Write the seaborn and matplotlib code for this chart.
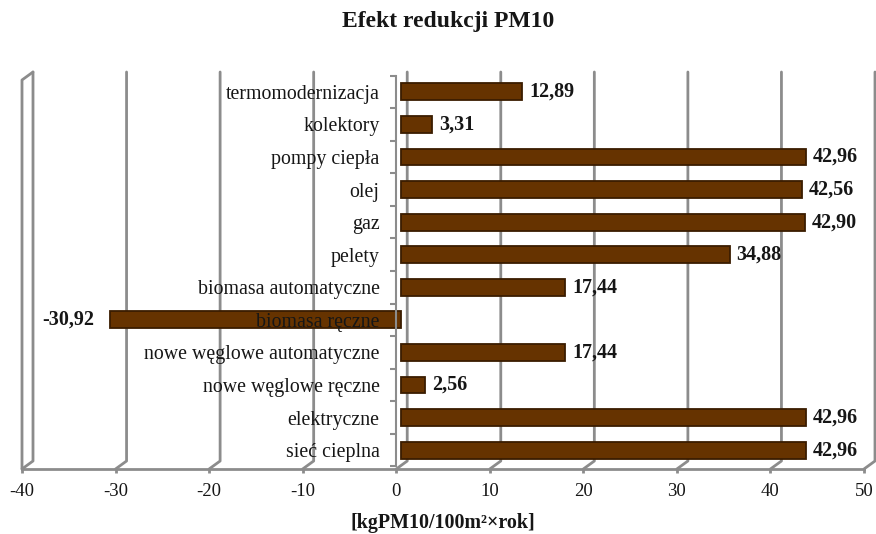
import matplotlib
matplotlib.use("Agg")
import matplotlib.pyplot as plt
from matplotlib.lines import Line2D
from matplotlib.transforms import IdentityTransform
import seaborn as sns
import pandas as pd

categories = ["termomodernizacja", "kolektory", "pompy ciepła", "olej", "gaz", "pelety",
              "biomasa automatyczne", "biomasa ręczne", "nowe węglowe automatyczne",
              "nowe węglowe ręczne", "elektryczne", "sieć cieplna"]
values = [12.89, 3.31, 42.96, 42.56, 42.90, 34.88, 17.44, -30.92, 17.44, 2.56, 42.96, 42.96]
xticks = [-40, -30, -20, -10, 0, 10, 20, 30, 40, 50]
title = "Efekt redukcji PM10"
xlabel = "[kgPM10/100m²×rok]"

sns.set_theme(style="white")
plt.rcParams['font.family'] = ['Liberation Serif', 'DejaVu Serif']

df = pd.DataFrame({"cat": categories, "val": values})

W, H = 876, 534
fig = plt.figure(figsize=(W / 100, H / 100), dpi=100)
fig.patch.set_facecolor("white")
grid_c = "#8c8c8c"
txt_c = "#161616"
ylims = (len(categories) - 0.42, -0.61)
bot = (H - 469) / H
hgt = 397 / H

# bar axes (bars drawn on the 3D-depth scale)
ax = fig.add_axes([24 / W, bot, 848 / W, hgt], zorder=1)
ax.set_facecolor("none")
sns.barplot(data=df, x="val", y="cat", orient="h", color="#663300", saturation=1,
            width=0.52, edgecolor="#3a1c00", linewidth=1.3, ax=ax, zorder=3)
ax.set_xlim(-40, 50)
ax.set_ylim(*ylims)
ax.axis("off")
labels = [f"{v:.2f}".replace(".", ",") for v in values]
pos_labels = [l if v >= 0 else "" for l, v in zip(labels, values)]
neg_labels = [l if v < 0 else "" for l, v in zip(labels, values)]
ax.bar_label(ax.containers[0], labels=pos_labels, padding=5, fontsize=14.5,
             fontweight="bold", color=txt_c)
ax.bar_label(ax.containers[0], labels=neg_labels, padding=11, fontsize=14.5,
             fontweight="bold", color=txt_c)

# front axes: floor, x tick labels, category axis at zero
axF = fig.add_axes([22 / W, bot, 842 / W, hgt], zorder=2)
axF.set_facecolor("none")
axF.set_xlim(-40, 50)
axF.set_ylim(*ylims)
axF.set_xticks(xticks)
axF.set_xticklabels([str(t) for t in xticks], fontsize=13.5, color=txt_c)
axF.tick_params(axis="x", direction="out", length=3, width=2, color=grid_c, pad=7,
                bottom=True)
for s in ["top", "right"]:
    axF.spines[s].set_visible(False)
axF.spines["bottom"].set_color(grid_c)
axF.spines["bottom"].set_linewidth(2)
axF.spines["left"].set_position(("data", 0))
axF.spines["left"].set_color(grid_c)
axF.spines["left"].set_linewidth(1.5)
axF.spines["left"].set_bounds(len(categories) - 0.5, -0.5)
axF.set_yticks(range(len(categories)))
axF.set_yticklabels(categories, fontsize=14.3, color=txt_c)
axF.set_yticks([i + 0.5 for i in range(-1, len(categories))], minor=True)
axF.tick_params(axis="y", which="major", length=0, pad=12)
axF.tick_params(axis="y", which="minor", length=4, width=1.5, color=grid_c, left=True)

# 3D back wall gridlines and left wall (decoration, in display pixels)
depth = 11
y_front = axF.transAxes.transform((0, 0))[1]
y_top = axF.transAxes.transform((0, 1))[1]
y_back = y_front + 8
for t in xticks:
    xf = axF.transData.transform((t, 0))[0]
    xb = xf + depth
    fig.add_artist(Line2D([xb, xb, xf], [y_top, y_back, y_front], color=grid_c, lw=2,
                          transform=IdentityTransform(), zorder=-1))
xf0 = axF.transData.transform((xticks[0], 0))[0]
fig.add_artist(Line2D([xf0, xf0, xf0 + depth], [y_front, y_top - 8, y_top],
                      color=grid_c, lw=2, transform=IdentityTransform(), zorder=-1))

fig.text(448 / W, 1 - 22 / H, title, ha="center", va="center", fontsize=17,
         fontweight="bold", color=txt_c)
fig.text(443 / W, 1 - 523 / H, xlabel, ha="center", va="center", fontsize=14.4,
         fontweight="bold", color=txt_c)

fig.savefig("out.png", dpi=100)
